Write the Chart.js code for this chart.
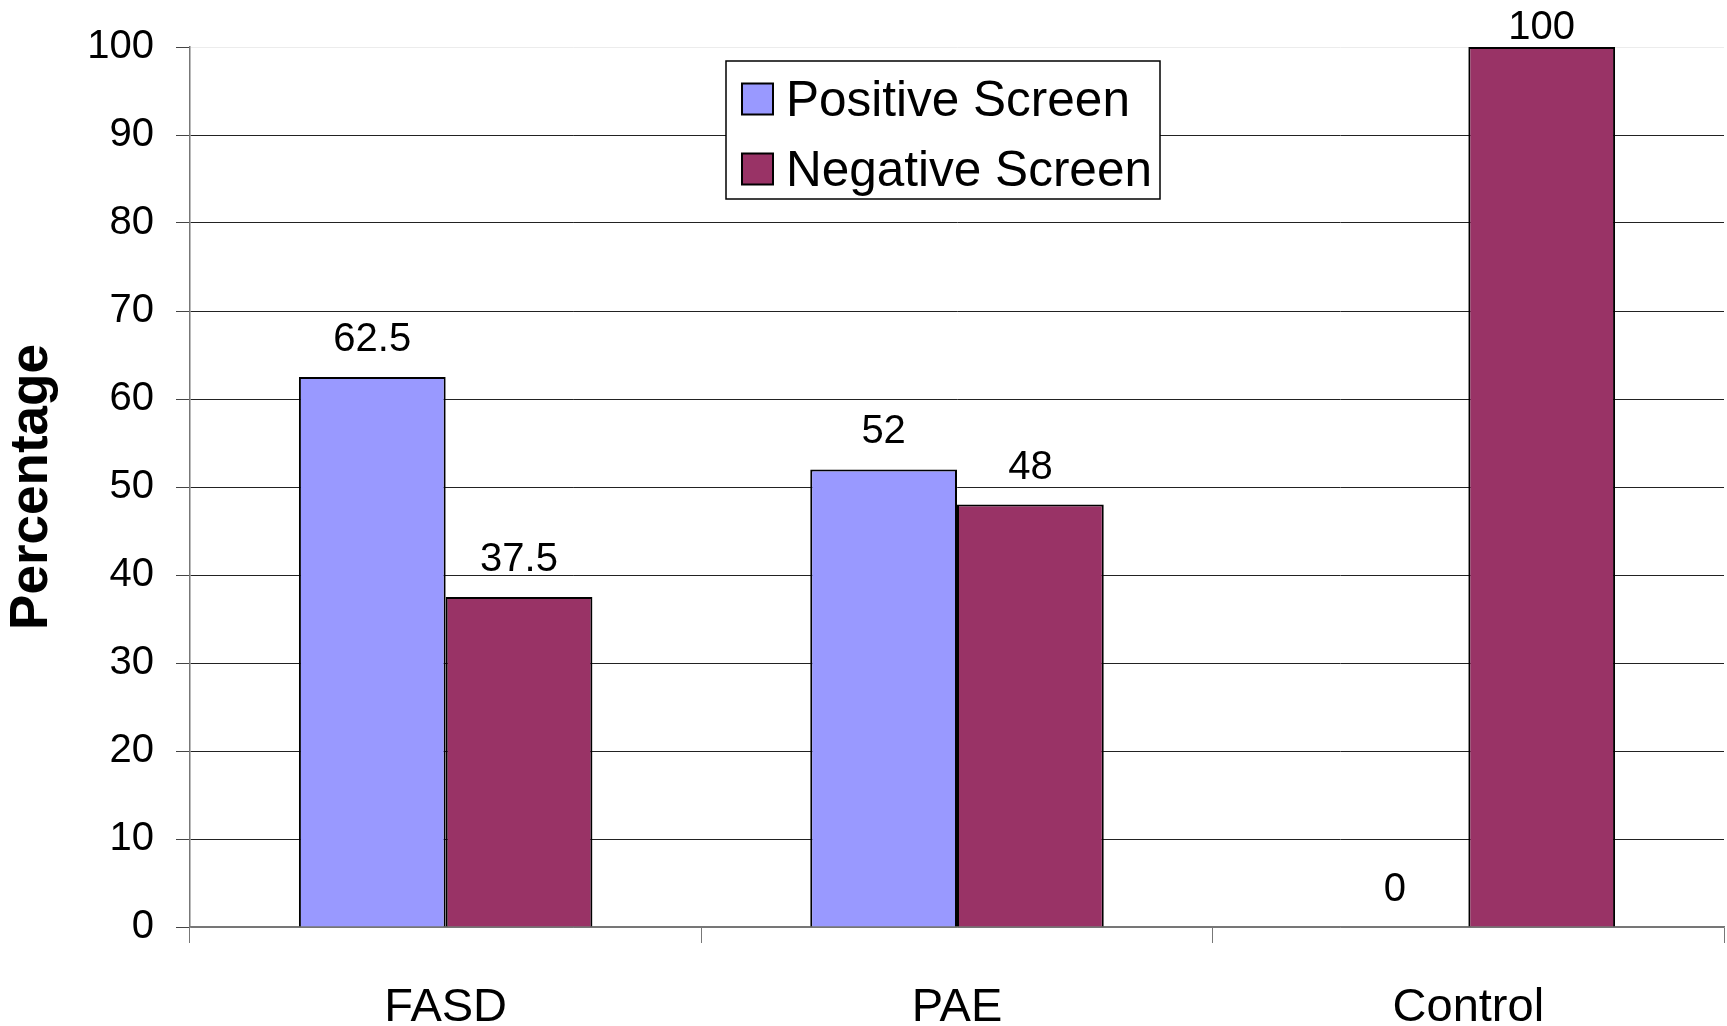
<!DOCTYPE html>
<html>
<head>
<meta charset="utf-8">
<title>Screen results by group</title>
<script src="https://cdn.jsdelivr.net/npm/chart.js@4.4.1/dist/chart.umd.min.js"></script>
<style>
  html, body { margin: 0; padding: 0; background: #ffffff; }
  #chartBox { width: 1727px; height: 1026px; }
</style>
</head>
<body>
<div id="chartBox"><canvas id="myChart" width="1727" height="1026"></canvas></div>
<script>
// data
var groups = ["FASD", "PAE", "Control"];
var positiveScreen = [62.5, 52, 0];
var negativeScreen = [37.5, 48, 100];
var seriesNames = ["Positive Screen", "Negative Screen"];
var yTicks = [0, 10, 20, 30, 40, 50, 60, 70, 80, 90, 100];

var fontName = "'Liberation Sans', Arial, sans-serif";
var blue = "#9999FF";
var maroon = "#993366";

// value labels above each bar, pushed down if they would leave the canvas
var valueLabels = {
  id: "valueLabels",
  afterDatasetsDraw: function(chart) {
    var ctx = chart.ctx;
    ctx.save();
    ctx.font = "40px " + fontName;
    ctx.fillStyle = "#000";
    ctx.textAlign = "center";
    ctx.textBaseline = "middle";
    chart.data.datasets.forEach(function(ds, i) {
      var meta = chart.getDatasetMeta(i);
      meta.data.forEach(function(bar, j) {
        var y = Math.max(bar.y - 37, 28);
        ctx.fillText(String(ds.data[j]), bar.x, y);
      });
    });
    ctx.restore();
  }
};

// boxed legend sitting inside the plot area
var boxLegend = {
  id: "boxLegend",
  afterDatasetsDraw: function(chart) {
    var ctx = chart.ctx;
    var area = chart.chartArea;
    var left = area.left + 536;
    var top = area.top + 14;
    var w = 434, h = 138;
    ctx.save();
    ctx.fillStyle = "#fff";
    ctx.fillRect(left, top, w, h);
    ctx.strokeStyle = "#000";
    ctx.lineWidth = 1.5;
    ctx.strokeRect(left, top, w, h);
    ctx.font = "49.5px " + fontName;
    ctx.textBaseline = "alphabetic";
    ctx.textAlign = "left";
    chart.data.datasets.forEach(function(ds, i) {
      var cy = top + 38 + i * 70;
      ctx.fillStyle = ds.backgroundColor;
      ctx.fillRect(left + 16, cy - 15.5, 31, 31);
      ctx.strokeStyle = "#000";
      ctx.lineWidth = 2;
      ctx.strokeRect(left + 16, cy - 15.5, 31, 31);
      ctx.fillStyle = "#000";
      ctx.fillText(ds.label, left + 60, cy + 17);
    });
    ctx.restore();
  }
};

var cx = document.getElementById("myChart");
var myChart = new Chart(cx, {
  type: "bar",
  data: {
    labels: groups,
    datasets: [{
      label: seriesNames[0],
      data: positiveScreen,
      backgroundColor: blue,
      borderColor: "#000",
      borderWidth: 2
    }, {
      label: seriesNames[1],
      data: negativeScreen,
      backgroundColor: maroon,
      borderColor: "#000",
      borderWidth: 2
    }]
  },
  options: {
    responsive: false,
    animation: false,
    devicePixelRatio: 1,
    categoryPercentage: 0.574,
    barPercentage: 1.0,
    layout: { padding: { top: 47, right: 3, left: 0, bottom: 0 } },
    plugins: {
      legend: { display: false },
      tooltip: { enabled: false }
    },
    scales: {
      x: {
        offset: true,
        grid: {
          offset: true,
          drawOnChartArea: false,
          drawTicks: true,
          tickLength: 16,
          tickColor: "#777"
        },
        border: { display: true, color: "#777", width: 1.5 },
        ticks: {
          color: "#000",
          padding: 37,
          font: { family: fontName, size: 47 }
        },
        afterFit: function(scale) { scale.height = 99; }
      },
      y: {
        min: 0,
        max: 100,
        afterBuildTicks: function(scale) {
          scale.ticks = yTicks.map(function(v) { return { value: v }; });
        },
        grid: {
          color: function(c) {
            if (c.tick && c.tick.value === 100) return "#ececec";
            if (c.tick && c.tick.value === 0) return "#777";
            return "#222";
          },
          tickColor: "#444",
          tickLength: 14,
          lineWidth: 1
        },
        border: { display: true, color: "#777", width: 1.5 },
        ticks: {
          color: "#000",
          padding: 22,
          font: { family: fontName, size: 40 }
        },
        title: {
          display: true,
          text: "Percentage",
          color: "#000",
          padding: { top: 1, bottom: 0 },
          font: { family: fontName, size: 53, weight: "bold" }
        },
        afterFit: function(scale) { scale.width = 190; }
      }
    }
  },
  plugins: [valueLabels, boxLegend]
});
</script>
</body>
</html>
